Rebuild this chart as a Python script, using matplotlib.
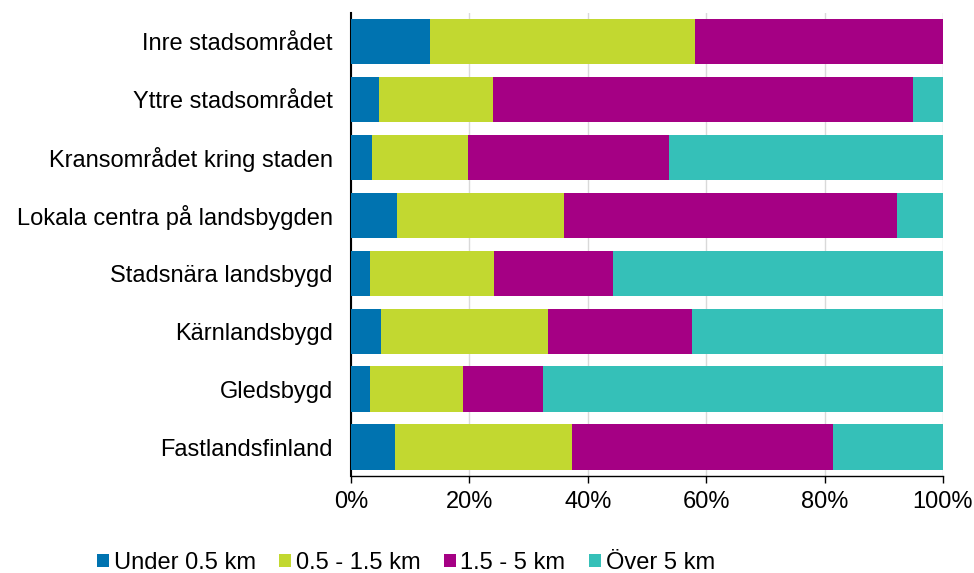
import matplotlib
matplotlib.use("Agg")
import matplotlib.pyplot as plt
import numpy as np
from matplotlib.ticker import FuncFormatter

plt.rcParams['font.family'] = ['Liberation Sans', 'DejaVu Sans']

categories = ["Inre stadsområdet", "Yttre stadsområdet", "Kransområdet kring staden",
              "Lokala centra på landsbygden", "Stadsnära landsbygd", "Kärnlandsbygd",
              "Gledsbygd", "Fastlandsfinland"]
under_05 = [13.3, 4.8, 3.5, 7.8, 3.2, 5.1, 3.2, 7.5]
r05_15 = [44.8, 19.2, 16.2, 28.1, 21.0, 28.1, 15.7, 29.8]
r15_5 = [41.9, 70.9, 34.1, 56.4, 20.1, 24.4, 13.5, 44.1]
over_5 = [0.0, 5.1, 46.2, 7.7, 55.7, 42.4, 67.6, 18.6]
series_names = ["Under 0.5 km", "0.5 - 1.5 km", "1.5 - 5 km", "Över 5 km"]
colors = ["#0073B0", "#C2D830", "#A50084", "#35C0B8"]

FS = 17
fig = plt.figure(figsize=(9.74, 5.73), dpi=100)
ax = fig.add_axes([351/974, 1-476/573, 592/974, 463.5/573])

y = np.arange(len(categories))
left = np.zeros(len(categories))
for vals, name, c in zip([under_05, r05_15, r15_5, over_5], series_names, colors):
    vals = np.array(vals)
    ax.barh(y, vals, left=left, height=0.78, color=c, label=name, zorder=3)
    left += vals

ax.set_ylim(len(categories)-0.5, -0.5)
ax.set_xlim(0, 100)
ax.set_yticks(y)
ax.set_yticklabels(categories, fontsize=FS)
ax.set_xticks([0, 20, 40, 60, 80, 100])
ax.xaxis.set_major_formatter(FuncFormatter(lambda v, p: f"{int(v)}%"))
ax.tick_params(axis='x', labelsize=FS, length=5, width=1, color='black', pad=6)
ax.tick_params(axis='y', length=0, pad=13)
ax.grid(axis='x', color='#d9d9d9', linewidth=1, zorder=0)
for s in ['top', 'right']:
    ax.spines[s].set_visible(False)
ax.spines['left'].set_color('black')
ax.spines['left'].set_linewidth(1.5)
ax.spines['bottom'].set_color('black')
ax.spines['bottom'].set_linewidth(1)

handles, labels = ax.get_legend_handles_labels()
leg = fig.legend(handles, labels, loc='center left', bbox_to_anchor=(97/974, 1-563/573),
                 ncol=4, frameon=False, fontsize=FS, handlelength=0.5, handleheight=0.5,
                 handletextpad=0.2, columnspacing=1.0, borderaxespad=0, borderpad=0)

fig.savefig("out.png", dpi=100)
